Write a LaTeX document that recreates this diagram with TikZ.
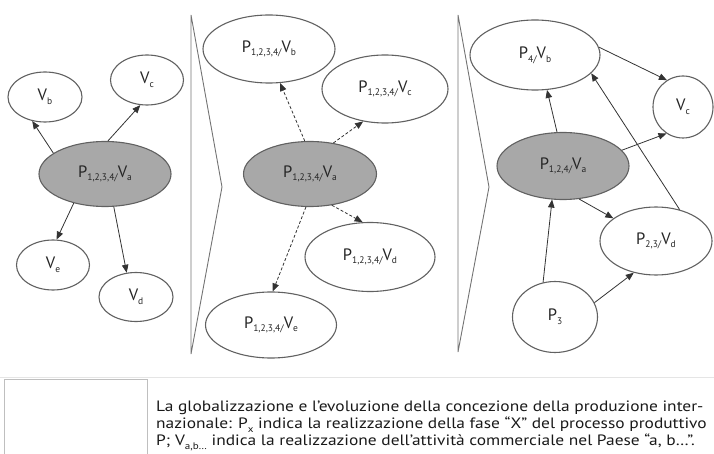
\documentclass[tikz,border=0pt]{standalone}
\usepackage{fontspec}
\setmainfont{PT Sans}
\newfontfamily\didafont[FakeStretch=1.16]{PT Sans}
\usepackage{xcolor}
\usepackage{tikz}
\usetikzlibrary{shapes}
\usetikzlibrary{arrows.meta}
\definecolor{grigio}{rgb}{0.66,0.66,0.66}
\definecolor{bordo}{rgb}{0.38,0.38,0.38}
\newcommand{\ped}[1]{\raisebox{-0.45ex}{\fontsize{9.5}{9.5}\selectfont #1}}

\begin{document}
\begin{tikzpicture}[x=1pt,y=-1pt,
  stato/.style={ellipse,draw=bordo,line width=1.1pt,fill=white,inner sep=0pt,text=black!85},
  centro/.style={stato,fill=grigio},
  dim/.style 2 args={minimum width=#1pt,minimum height=#2pt},
  freccia/.style={-{Triangle[length=8pt,width=6.5pt]},line width=0.8pt,draw=black!80},
  tratto/.style={freccia,densely dashed},
  punta/.style={draw=black!55,line width=0.9pt},
  font=\fontsize{16.5}{18}\selectfont]
  \useasboundingbox (0,0) rectangle (714,454);

  \node[stato,dim={74}{50}] (vb1) at (45,97) {V\ped{b}};
  \node[stato,dim={73}{50}] (vc1) at (147,80) {V\ped{c}};
  \node[centro,dim={132}{65}] (pa1) at (105,174) {P\ped{1,2,3,4/}V\ped{a}};
  \node[stato,dim={73}{50}] (ve1) at (53,265) {V\ped{e}};
  \node[stato,dim={74}{49}] (vd1) at (136,297) {V\ped{d}};
  \draw[freccia] (pa1.158) -- (vb1.242);
  \draw[freccia] (pa1.85) -- (vc1.255);
  \draw[freccia] (pa1.223) -- (ve1.82);
  \draw[freccia] (pa1.285) -- (vd1.111);

  \draw[punta] (191,15) -- (222,187) -- (191,354) -- cycle;

  \node[stato,dim={132}{68}] (pb2) at (269,49) {P\ped{1,2,3,4/}V\ped{b}};
  \node[stato,dim={126}{68}] (pc2) at (385,89) {P\ped{1,2,3,4/}V\ped{c}};
  \node[centro,dim={133}{65}] (pa2) at (310,174) {P\ped{1,2,3,4/}V\ped{a}};
  \node[stato,dim={130}{69}] (pd2) at (370,257) {P\ped{1,2,3,4/}V\ped{d}};
  \node[stato,dim={131}{66}] (pe2) at (271,325) {P\ped{1,2,3,4/}V\ped{e}};
  \draw[tratto] (pa2.99) -- (pb2.288);
  \draw[tratto] (pa2.53) -- (pc2.236);
  \draw[tratto] (pa2.305) -- (pd2.102);
  \draw[tratto] (pa2.263) -- (pe2.87);

  \draw[punta] (458,15) -- (489,187) -- (458,352) -- cycle;

  \node[stato,dim={130}{70}] (pb3) at (535,55) {P\ped{4/}V\ped{b}};
  \node[stato,dim={60}{62}] (vc3) at (683,107) {V\ped{c}};
  \node[centro,dim={132}{67}] (pa3) at (563,166) {P\ped{1,2,4/}V\ped{a}};
  \node[stato,dim={112}{68}] (pd3) at (656,241) {P\ped{2,3/}V\ped{d}};
  \node[stato,dim={85}{71}] (p3) at (555,317) {P\ped{3}};
  \draw[freccia] (pa3.100) -- (pb3.289);
  \draw[freccia] (pb3.7) -- (vc3.121);
  \draw[freccia] (pa3.15) -- (vc3.238);
  \draw[freccia] (pa3.296) -- (pd3.152);
  \draw[freccia] (pd3.53) -- (pb3.342);
  \draw[freccia] (p3.109) -- (pa3.252);
  \draw[freccia] (p3.20) -- (pd3.235);

  \draw[black!10] (0,377) -- (714,377);
  \draw[black!25] (4,454) -- (4,379) -- (147,379) -- (147,454);
  \node[anchor=north west,align=left,inner sep=0pt,text=black!90,
    font=\didafont\fontsize{15}{17}\selectfont] (didascalia) at (156,401)
    {La globalizzazione e l’evoluzione della concezione della produzione inter-\\
     nazionale: P\ped{x} indica la realizzazione della fase “X” del processo produttivo\\
     P; V\ped{a,b\ldots} indica la realizzazione dell’attività commerciale nel Paese “a, b\ldots”.};
\end{tikzpicture}
\end{document}
